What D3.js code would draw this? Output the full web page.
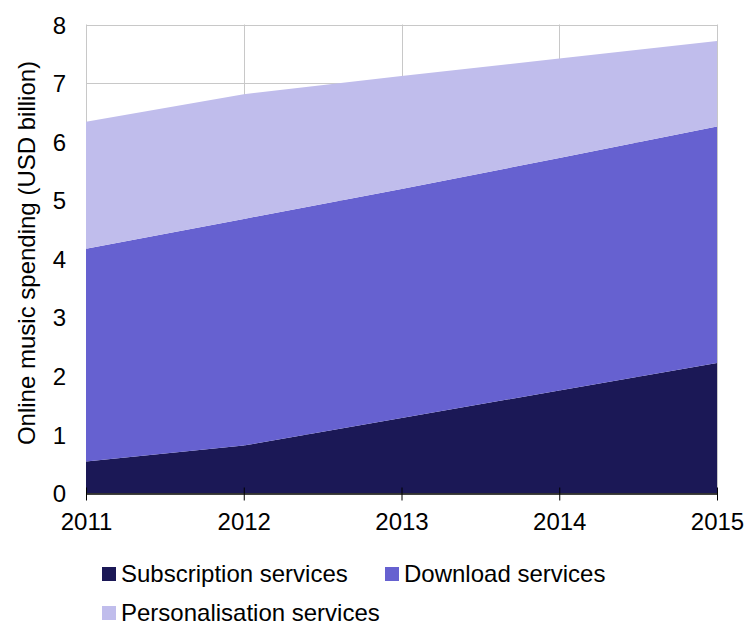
<!DOCTYPE html>
<html>
<head>
<meta charset="utf-8">
<script src="https://cdn.jsdelivr.net/npm/d3@7"></script>
<style>
  html, body { margin: 0; padding: 0; background: #fff; }
  svg { display: block; font-family: "Liberation Sans", Arial, sans-serif; }
</style>
</head>
<body>
<svg id="chart" width="744" height="626"></svg>
<script>
// Online music spending by service type, USD billion
const years = [2011, 2012, 2013, 2014, 2015];
const subscription = [0.54, 0.81, 1.28, 1.75, 2.22];
const download = [3.63, 3.87, 3.91, 3.97, 4.04];
const personalisation = [2.17, 2.13, 1.93, 1.70, 1.46];
const seriesNames = ["Subscription services", "Download services", "Personalisation services"];
const seriesColors = ["#1b1856", "#6661d0", "#c0bdec"];
const yTicks = [0, 1, 2, 3, 4, 5, 6, 7, 8];

const svg = d3.select("#chart");
const plotLeft = 86, plotRight = 717, plotTop = 24.5, plotBottom = 493;
const fontSize = 24;

const x = d3.scaleLinear().domain([2011, 2015]).range([plotLeft, plotRight]);
const y = d3.scaleLinear().domain([0, 8]).range([plotBottom, plotTop]);

const rows = years.map((yr, i) => ({
  year: yr,
  s0: subscription[i],
  s1: download[i],
  s2: personalisation[i]
}));
const stack = d3.stack().keys(["s0", "s1", "s2"]);
const layers = stack(rows);

// gridlines
const grid = svg.append("g").attr("stroke", "#c8c8c8").attr("stroke-width", 1);
yTicks.forEach(t => {
  grid.append("line")
    .attr("x1", plotLeft).attr("x2", plotRight)
    .attr("y1", Math.round(y(t)) + 0.5).attr("y2", Math.round(y(t)) + 0.5);
});
years.forEach(yr => {
  grid.append("line")
    .attr("x1", Math.round(x(yr)) + 0.5).attr("x2", Math.round(x(yr)) + 0.5)
    .attr("y1", plotTop).attr("y2", plotBottom);
});

// stacked areas
const area = d3.area()
  .x(d => x(d.data.year))
  .y0(d => y(d[0]))
  .y1(d => y(d[1]));
svg.append("g").selectAll("path")
  .data(layers)
  .join("path")
  .attr("d", area)
  .attr("fill", (d, i) => seriesColors[i]);

// x axis
const xAxis = d3.axisBottom(x)
  .tickValues(years)
  .tickFormat(d3.format("d"))
  .tickSizeInner(7)
  .tickSizeOuter(0)
  .tickPadding(12);
const gx = svg.append("g")
  .attr("transform", `translate(0,${Math.round(plotBottom) + 0.5})`)
  .call(xAxis);
gx.select(".domain").attr("stroke", "#000").attr("stroke-width", 1.5);
gx.selectAll(".tick line").attr("stroke", "#000").attr("y1", -6).attr("y2", 7);
gx.selectAll(".tick text")
  .attr("font-size", fontSize)
  .attr("fill", "#000")
  .attr("font-family", "'Liberation Sans', Arial, sans-serif");

// y axis labels
const yAxis = d3.axisLeft(y).tickValues(yTicks).tickSize(0).tickPadding(20);
const gy = svg.append("g").attr("transform", `translate(${plotLeft},0)`).call(yAxis);
gy.select(".domain").remove();
gy.selectAll(".tick text")
  .attr("font-size", fontSize)
  .attr("dy", "0.36em")
  .attr("fill", "#000")
  .attr("font-family", "'Liberation Sans', Arial, sans-serif");

// y axis title
svg.append("text")
  .attr("transform", `translate(35,253) rotate(-90)`)
  .attr("text-anchor", "middle")
  .attr("font-size", fontSize)
  .attr("fill", "#000")
  .text("Online music spending (USD billion)");

// legend
const legendPos = [
  { x: 102, y: 567 },
  { x: 385, y: 567 },
  { x: 102, y: 606 }
];
const legend = svg.append("g");
seriesNames.forEach((name, i) => {
  const p = legendPos[i];
  legend.append("rect")
    .attr("x", p.x).attr("y", p.y)
    .attr("width", 14).attr("height", 14)
    .attr("fill", seriesColors[i]);
  legend.append("text")
    .attr("x", p.x + 19).attr("y", p.y + 15)
    .attr("font-size", fontSize)
    .attr("fill", "#000")
    .text(name);
});
</script>
</body>
</html>
